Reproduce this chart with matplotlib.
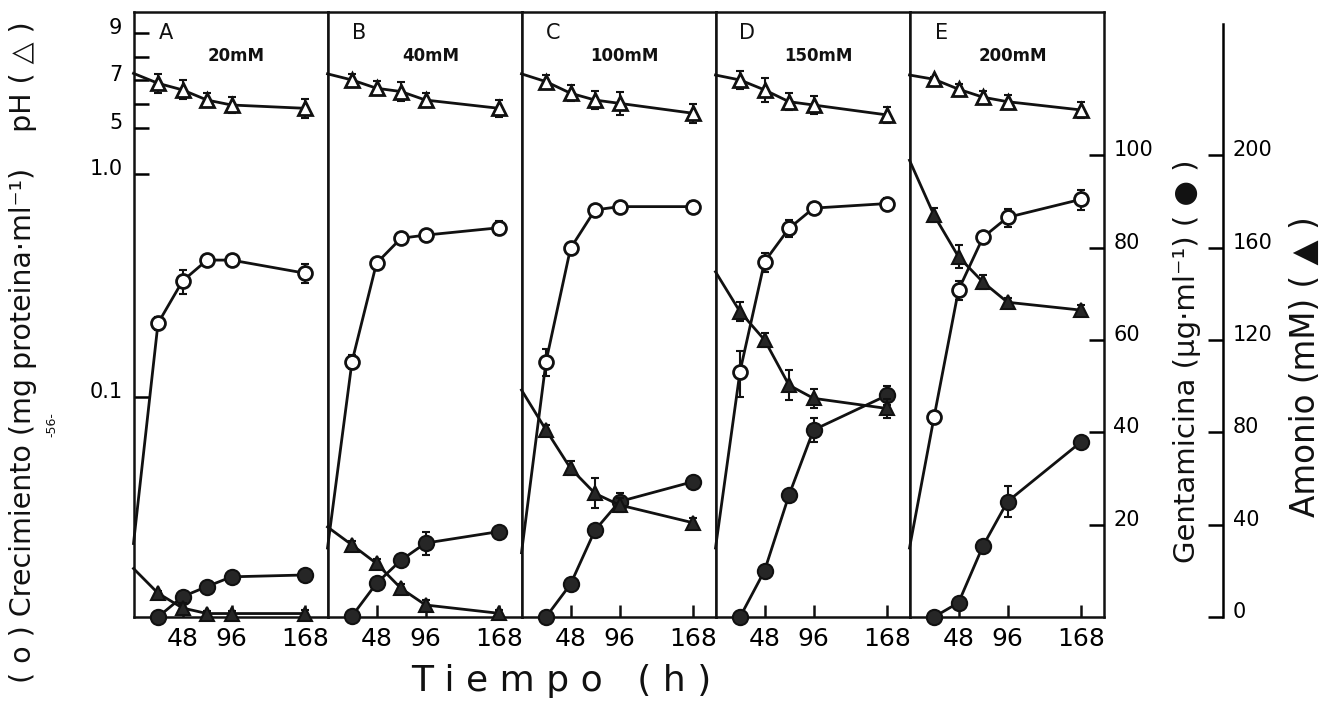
import matplotlib
matplotlib.use("Agg")
import matplotlib.pyplot as plt
from matplotlib.ticker import NullLocator, FixedLocator, FixedFormatter
from matplotlib.transforms import ScaledTranslation

# ---------------- data ----------------
times = [0, 24, 48, 72, 96, 168]
panel_letters = ["A", "B", "C", "D", "E"]
panel_conc = ["20mM", "40mM", "100mM", "150mM", "200mM"]

# pH (open triangles); first value (t=0) drawn without marker
ph_A = [7.30, 6.88, 6.60, 6.17, 5.96, 5.82]
ph_B = [7.28, 7.02, 6.67, 6.53, 6.17, 5.82]
ph_C = [7.28, 6.95, 6.46, 6.17, 6.03, 5.61]
ph_D = [7.23, 7.02, 6.60, 6.10, 5.96, 5.54]
ph_E = [7.23, 7.05, 6.63, 6.29, 6.10, 5.75]
ph_err_A = [0.40, 0.40, 0.30, 0.35, 0.40]
ph_err_B = [0.25, 0.30, 0.40, 0.30, 0.35]
ph_err_C = [0.30, 0.35, 0.40, 0.50, 0.40]
ph_err_D = [0.40, 0.50, 0.35, 0.40, 0.35]
ph_err_E = [0.10, 0.20, 0.25, 0.30, 0.35]

# growth, mg protein/ml (open circles, log scale)
growth_A = [0.022, 0.214, 0.331, 0.411, 0.411, 0.359]
growth_B = [0.021, 0.144, 0.398, 0.515, 0.532, 0.574]
growth_C = [0.020, 0.144, 0.464, 0.690, 0.714, 0.714]
growth_D = [0.021, 0.130, 0.404, 0.570, 0.703, 0.737]
growth_E = [0.021, 0.081, 0.302, 0.520, 0.639, 0.770]
growth_err_A = [0.015, 0.040, 0.020, 0.020, 0.035]
growth_err_B = [0.010, 0.020, 0.030, 0.020, 0.040]
growth_err_C = [0.020, 0.020, 0.030, 0.030, 0.040]
growth_err_D = [0.030, 0.040, 0.050, 0.040, 0.040]
growth_err_E = [0.005, 0.030, 0.030, 0.060, 0.080]

# gentamicin, ug/ml (filled circles), from 24 h
gent_A = [0.0, 4.4, 6.6, 8.7, 9.1]
gent_B = [0.2, 7.3, 12.3, 16.0, 18.5]
gent_C = [0.0, 7.1, 18.8, 25.0, 29.3]
gent_D = [0.0, 10.0, 26.4, 40.5, 48.0]
gent_E = [0.0, 3.1, 15.4, 25.0, 37.9]
gent_err_A = [0.3, 0.8, 0.5, 0.5, 0.8]
gent_err_B = [0.3, 0.8, 0.8, 2.5, 0.8]
gent_err_C = [0.3, 0.8, 1.0, 1.8, 1.2]
gent_err_D = [0.3, 0.8, 1.0, 2.5, 2.0]
gent_err_E = [0.3, 0.8, 0.8, 3.4, 0.8]

# ammonium, mM (filled triangles)
amm_A = [21.0, 10.3, 3.9, 1.5, 1.5, 1.5]
amm_B = [39.0, 31.2, 23.2, 12.4, 5.2, 1.6]
amm_C = [98.3, 81.0, 64.4, 53.5, 48.5, 40.8]
amm_D = [149.5, 132.2, 120.0, 100.4, 94.7, 90.3]
amm_E = [197.8, 174.0, 156.0, 145.0, 136.3, 132.9]
amm_err_A = [1.0, 2.0, 1.0, 1.0, 1.5]
amm_err_B = [1.5, 2.0, 2.0, 2.0, 1.5]
amm_err_C = [2.0, 3.0, 6.5, 3.0, 2.0]
amm_err_D = [4.0, 3.0, 6.5, 4.0, 4.0]
amm_err_E = [3.0, 5.0, 3.0, 2.0, 2.0]

x_ticks = [48, 96, 168]
growth_ticks = [0.1, 1.0]
growth_ticklabels = ["0.1", "1.0"]
ph_ticks = [5, 6, 7, 8, 9]
ph_ticklabels = ["5", "", "7", "", "9"]
gent_ticks = [20, 40, 60, 80, 100]
amm_ticks = [0, 40, 80, 120, 160, 200]

ph_all = [ph_A, ph_B, ph_C, ph_D, ph_E]
ph_err_all = [ph_err_A, ph_err_B, ph_err_C, ph_err_D, ph_err_E]
growth_all = [growth_A, growth_B, growth_C, growth_D, growth_E]
growth_err_all = [growth_err_A, growth_err_B, growth_err_C, growth_err_D, growth_err_E]
gent_all = [gent_A, gent_B, gent_C, gent_D, gent_E]
gent_err_all = [gent_err_A, gent_err_B, gent_err_C, gent_err_D, gent_err_E]
amm_all = [amm_A, amm_B, amm_C, amm_D, amm_E]
amm_err_all = [amm_err_A, amm_err_B, amm_err_C, amm_err_D, amm_err_E]

# ---------------- layout ----------------
W, H = 1324, 705
fig = plt.figure(figsize=(W / 100, H / 100), dpi=100)
fig.patch.set_facecolor("white")


def fx(x):
    return x / W


def fy(y):
    return 1 - y / H


X0, PW, YTOP, YBOT = 133.5, 194.0, 12.0, 617.0
LW = 1.8
K = "#111111"
FILL = "#262626"
up = ScaledTranslation(0, 0.07, fig.dpi_scale_trans)

for i in range(5):
    ax = fig.add_axes([fx(X0 + i * PW), fy(YBOT), PW / W, (YBOT - YTOP) / H])
    ax.set_xlim(0, 190)
    ax.set_yscale("log")
    ax.set_ylim(0.0103, 5.33)
    axp = ax.twinx()
    axp.set_ylim(-15.73, 9.90)
    axg = ax.twinx()
    axg.set_ylim(0, 131)
    axa = ax.twinx()
    axa.set_ylim(0, 262)

    for s in ax.spines.values():
        s.set_linewidth(LW)
        s.set_color(K)
    for a in (axp, axg, axa):
        for s in a.spines.values():
            s.set_visible(False)

    # x axis
    ax.set_xticks(x_ticks)
    ax.set_xticklabels([str(t) for t in x_ticks])
    ax.tick_params(axis="x", direction="in", length=8.5, width=LW, labelsize=18,
                   pad=7, color=K)
    ax.yaxis.set_minor_locator(NullLocator())

    # left axes (only panel A shows ticks)
    if i == 0:
        ax.yaxis.set_major_locator(FixedLocator(growth_ticks))
        ax.yaxis.set_major_formatter(FixedFormatter(growth_ticklabels))
        ax.tick_params(axis="y", direction="in", length=11, width=LW, labelsize=15,
                       pad=8, left=True, right=False)
        axp.yaxis.tick_left()
        axp.set_yticks(ph_ticks)
        axp.set_yticklabels(ph_ticklabels)
        axp.tick_params(axis="y", direction="in", length=11, width=LW, labelsize=15,
                        pad=8)
        for lab in ax.get_yticklabels() + axp.get_yticklabels():
            lab.set_transform(lab.get_transform() + up)
    else:
        ax.yaxis.set_major_locator(NullLocator())
        axp.set_yticks([])
    if i == 4:
        axg.set_yticks(gent_ticks)
        axg.set_yticklabels([str(t) for t in gent_ticks])
        axg.tick_params(axis="y", direction="in", length=11, width=LW, labelsize=15,
                        pad=7)
        axa.spines["right"].set_visible(True)
        axa.spines["right"].set_linewidth(LW)
        axa.spines["right"].set_position(("axes", 1 + 119.5 / PW))
        axa.spines["right"].set_bounds(0, 257)
        axa.set_yticks(amm_ticks)
        axa.set_yticklabels([str(t) for t in amm_ticks])
        axa.tick_params(axis="y", direction="in", length=11, width=LW, labelsize=15,
                        pad=7)
        for lab in axg.get_yticklabels() + axa.get_yticklabels():
            lab.set_transform(lab.get_transform() + up)
    else:
        axg.set_yticks([])
        axa.set_yticks([])

    ekw = dict(fmt="none", ecolor=K, elinewidth=1.5, capsize=3.2, capthick=1.5,
               clip_on=False)
    mk = [1, 2, 3, 4, 5]
    lw = 2.0

    # growth (open circles)
    ax.errorbar(times[1:], growth_all[i][1:], yerr=growth_err_all[i], **ekw)
    ax.plot(times, growth_all[i], "-", color=K, lw=lw, marker="o", markevery=mk,
            mfc="white", mec=K, ms=10, mew=2.0, clip_on=False, zorder=3)

    # pH (open triangles)
    axp.errorbar(times[1:], ph_all[i][1:], yerr=ph_err_all[i], **ekw)
    axp.plot(times, ph_all[i], "-", color=K, lw=lw, marker="^", markevery=mk,
             mfc="white", mec=K, ms=10, mew=2.0, clip_on=False, zorder=3)

    # ammonium (filled triangles)
    axa.errorbar(times[1:], amm_all[i][1:], yerr=amm_err_all[i], **ekw)
    axa.plot(times, amm_all[i], "-", color=K, lw=lw, marker="^", markevery=mk,
             mfc=FILL, mec=K, ms=10.5, mew=1.5, clip_on=False, zorder=3)

    # gentamicin (filled circles)
    axg.errorbar(times[1:], gent_all[i], yerr=gent_err_all[i], **ekw)
    axg.plot(times[1:], gent_all[i], "-", color=K, lw=lw, marker="o",
             mfc=FILL, mec=K, ms=11, mew=1.5, clip_on=False, zorder=3)

    # panel annotations
    left = X0 + i * PW
    fig.text(fx(left + 32), fy(33), panel_letters[i], ha="center", va="center",
             fontsize=15, color=K)
    fig.text(fx(left + 103), fy(56), panel_conc[i], ha="center", va="center",
             fontsize=12, fontweight="bold", color=K)

# axis titles
fig.text(fx(23), fy(352), "( o ) Crecimiento (mg proteina·ml⁻¹)    pH ( △ )",
         rotation=90, ha="center", va="center", fontsize=20.5, color=K)
fig.text(fx(1187), fy(361), "Gentamicina (µg·ml⁻¹) ( ● )", rotation=90,
         ha="center", va="center", fontsize=21, color=K)
fig.text(fx(1305), fy(367), "Amonio (mM) ( ▲ )", rotation=90,
         ha="center", va="center", fontsize=23.5, color=K)
fig.text(fx(561), fy(681), "T i e m p o   ( h )", ha="center", va="center",
         fontsize=26, color=K)
fig.text(fx(52), fy(425), "-56-", rotation=90, ha="center", va="center",
         fontsize=9, color=K)

fig.savefig("out.png", dpi=100, facecolor="white")
